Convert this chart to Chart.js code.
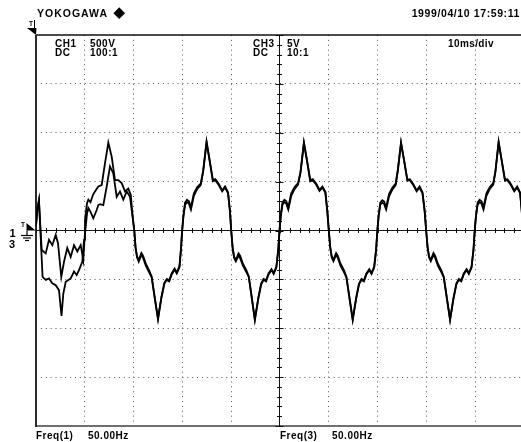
<!DOCTYPE html>
<html>
<head>
<meta charset="utf-8">
<script src="https://cdn.jsdelivr.net/npm/chart.js@4.4.1/dist/chart.umd.min.js"></script>
<style>
  html, body { margin: 0; padding: 0; background: #fff; overflow: hidden; width: 521px; height: 442px; }
  #wrap { width: 526px; height: 442px; }
</style>
</head>
<body>
<div id="wrap"><canvas id="scope" width="526" height="442"></canvas></div>
<script>
// Scope settings
const MS_PER_DIV = 10;
const CH1_VOLTS_PER_DIV = 500;   // CH1 500V, probe 100:1
const CH3_VOLTS_PER_DIV = 5;     // CH3 5V, probe 10:1

// CH1 trace: sample times (ms) and voltages (V)
const ch1Ms = [
  0, 0.3, 0.6, 1.35, 2.0, 2.66, 3.34, 4.04, 4.71, 5.23, 5.6, 6.09, 7.11, 7.79, 8.34, 8.81, 9.49, 9.84, 10.04, 10.45,
  10.72, 11.17, 11.68, 12.09, 12.77, 13.46, 14.14, 14.82, 15.51, 16.19, 16.86, 17.56, 18.24, 18.91, 19.41, 19.82, 20.14,
  20.4, 20.7, 21.05, 21.6, 21.95, 22.5, 23.2, 23.7, 24.35, 25.0, 25.7, 26.3, 26.8, 27.3, 27.8, 28.4, 28.85, 29.4, 29.7, 29.95,
  30.2, 30.55, 30.95, 31.35, 31.75, 32.35, 33.05, 33.75, 34.25, 34.95, 35.55, 36.25, 36.75, 37.45, 38.15, 38.75, 39.35, 39.75, 40.0,
  40.3, 40.6, 40.95, 41.5, 41.85, 42.4, 43.1, 43.6, 44.25, 44.85, 45.55, 46.15, 46.65, 47.15, 47.65, 48.25, 48.7, 49.25, 49.65, 49.9,
  50.15, 50.5, 50.9, 51.3, 51.7, 52.3, 53.0, 53.7, 54.2, 54.9, 55.5, 56.2, 56.7, 57.4, 58.1, 58.7, 59.3, 59.7, 60.0,
  60.3, 60.6, 60.95, 61.5, 61.85, 62.4, 63.1, 63.6, 64.25, 64.9, 65.6, 66.2, 66.7, 67.2, 67.7, 68.3, 68.75, 69.3, 69.7, 69.95,
  70.2, 70.55, 70.95, 71.35, 71.75, 72.35, 73.05, 73.7, 74.15, 74.8, 75.4, 76.1, 76.6, 77.3, 78.0, 78.6, 79.2, 79.65, 79.95,
  80.25, 80.55, 80.9, 81.45, 81.8, 82.35, 83.05, 83.55, 84.2, 84.85, 85.55, 86.15, 86.65, 87.15, 87.65, 88.25, 88.7, 89.25, 89.65, 89.9,
  90.15, 90.5, 90.9, 91.3, 91.7, 92.3, 93.0, 93.7, 94.15, 94.8, 95.4, 96.1, 96.6, 97.3, 98.0, 98.6, 99.2, 99.5, 99.8
];
const ch1Volts = [
  50, 225, 310, -475, -505, -490, -540, -560, -610, -875, -645, -525, -490, -420, -455, -405, -320, -95, 110, 280,
  315, 290, 365, 400, 450, 465, 690, 900, 755, 515, 515, 485, 400, 430, 365, 140, 0,
  -175, -275, -320, -250, -280, -360, -430, -480, -700, -910, -690, -545, -505, -520, -450, -400, -440, -375, -200, 0,
  150, 285, 315, 300, 235, 380, 445, 480, 610, 910, 730, 515, 525, 475, 410, 450, 390, 200, 0,
  -180, -280, -315, -255, -285, -360, -425, -475, -705, -915, -700, -550, -505, -520, -450, -405, -445, -380, -200, 0,
  150, 285, 315, 300, 235, 380, 445, 485, 600, 900, 730, 515, 525, 480, 415, 450, 395, 200, 0,
  -175, -275, -315, -250, -280, -360, -425, -480, -700, -915, -700, -550, -505, -520, -450, -405, -445, -380, -200, 0,
  150, 285, 310, 295, 235, 375, 440, 480, 625, 900, 730, 520, 525, 475, 410, 450, 390, 200, 0,
  -175, -275, -315, -250, -280, -360, -425, -480, -700, -915, -700, -550, -505, -520, -450, -405, -445, -380, -200, 0,
  150, 285, 315, 300, 235, 380, 445, 485, 610, 910, 730, 520, 525, 475, 410, 450, 390, 225, 25
];

// CH3 trace: sample times (ms) and voltages (V)
const ch3Ms = [
  0, 0.3, 0.6, 1.17, 1.99, 2.66, 3.34, 4.04, 4.51, 5.18, 5.74, 6.41, 7.11, 7.79, 8.46, 9.16, 9.69, 9.98, 10.45, 10.72,
  11.17, 11.74, 12.44, 12.77, 13.11, 13.79, 14.49, 15.16, 15.84, 16.54, 17.21, 17.89, 18.59, 19.26, 19.61, 20.14,
  20.4, 20.7, 21.05, 21.6, 21.95, 22.5, 23.2, 23.7, 24.35, 25.0, 25.7, 26.3, 26.8, 27.3, 27.8, 28.4, 28.85, 29.4, 29.7, 29.95,
  30.2, 30.55, 30.95, 31.35, 31.75, 32.35, 33.05, 33.75, 34.25, 34.95, 35.55, 36.25, 36.75, 37.45, 38.15, 38.75, 39.35, 39.75, 40.0,
  40.3, 40.6, 40.95, 41.5, 41.85, 42.4, 43.1, 43.6, 44.25, 44.85, 45.55, 46.15, 46.65, 47.15, 47.65, 48.25, 48.7, 49.25, 49.65, 49.9,
  50.15, 50.5, 50.9, 51.3, 51.7, 52.3, 53.0, 53.7, 54.2, 54.9, 55.5, 56.2, 56.7, 57.4, 58.1, 58.7, 59.3, 59.7, 60.0,
  60.3, 60.6, 60.95, 61.5, 61.85, 62.4, 63.1, 63.6, 64.25, 64.9, 65.6, 66.2, 66.7, 67.2, 67.7, 68.3, 68.75, 69.3, 69.7, 69.95,
  70.2, 70.55, 70.95, 71.35, 71.75, 72.35, 73.05, 73.7, 74.15, 74.8, 75.4, 76.1, 76.6, 77.3, 78.0, 78.6, 79.2, 79.65, 79.95,
  80.25, 80.55, 80.9, 81.45, 81.8, 82.35, 83.05, 83.55, 84.2, 84.85, 85.55, 86.15, 86.65, 87.15, 87.65, 88.25, 88.7, 89.25, 89.65, 89.9,
  90.15, 90.5, 90.9, 91.3, 91.7, 92.3, 93.0, 93.7, 94.15, 94.8, 95.4, 96.1, 96.6, 97.3, 98.0, 98.6, 99.2, 99.5, 99.8
];
const ch3Volts = [
  0.5, 2.25, 3.1, -2.0, -2.35, -0.95, -1.5, -0.45, -1.3, -4.75, -3.2, -1.8, -2.7, -1.5, -2.15, -1.5, -3.0, -0.65, 1.7, 2.3,
  1.9, 1.25, 2.1, 2.6, 2.7, 2.6, 4.5, 6.55, 5.85, 3.45, 4.0, 3.15, 4.0, 3.45, 2.1, 0,
  -1.75, -2.65, -3.0, -2.3, -2.6, -3.4, -4.1, -4.7, -6.9, -9.0, -6.8, -5.35, -4.95, -5.1, -4.4, -3.9, -4.3, -3.65, -1.9, 0,
  1.4, 2.65, 2.9, 2.75, 2.15, 3.55, 4.25, 4.65, 6.0, 9.0, 7.2, 5.05, 5.15, 4.65, 4.0, 4.4, 3.8, 1.9, 0,
  -1.8, -2.7, -3.0, -2.35, -2.6, -3.4, -4.05, -4.7, -6.95, -9.1, -6.9, -5.4, -4.95, -5.1, -4.4, -3.95, -4.35, -3.7, -1.9, 0,
  1.4, 2.65, 2.9, 2.75, 2.15, 3.55, 4.25, 4.7, 5.9, 8.95, 7.2, 5.05, 5.15, 4.7, 4.05, 4.4, 3.85, 1.9, 0,
  -1.75, -2.65, -3.0, -2.3, -2.6, -3.4, -4.05, -4.7, -6.9, -9.1, -6.9, -5.4, -4.95, -5.1, -4.4, -3.95, -4.35, -3.7, -1.9, 0,
  1.4, 2.65, 2.85, 2.7, 2.15, 3.5, 4.2, 4.65, 6.1, 8.95, 7.2, 5.1, 5.15, 4.65, 4.0, 4.4, 3.8, 1.9, 0,
  -1.75, -2.65, -3.0, -2.3, -2.6, -3.4, -4.05, -4.7, -6.9, -9.1, -6.9, -5.4, -4.95, -5.1, -4.4, -3.95, -4.35, -3.7, -1.9, 0,
  1.4, 2.65, 2.9, 2.75, 2.15, 3.55, 4.25, 4.7, 6.0, 9.0, 7.2, 5.1, 5.15, 4.65, 4.0, 4.4, 3.8, 2.15, 0.2
];

// Screen annotations
const headerBrand = 'YOKOGAWA';
const headerStamp = '1999/04/10 17:59:11';
const ch1Setup = ['CH1', 'DC', '500V', '100:1'];
const ch3Setup = ['CH3', 'DC', '5V', '10:1'];
const timebaseText = '10ms/div';
const freqReadouts = [['Freq(1)', '50.00Hz'], ['Freq(3)', '50.00Hz']];

const H_DIVS = 10, V_DIVS = 8;
const FONT = '"Liberation Sans", Arial, sans-serif';
const DOT_COLOR = '#555';

// volts -> screen divisions
const toPoints = (ms, volts, perDiv) => ms.map((t, i) => ({ x: t, y: volts[i] / perDiv }));

const isEdgeOrCenterY = v => v === 0 || Math.abs(v) === V_DIVS / 2;
const isEdgeOrCenterX = v => v === 0 || v === H_DIVS * MS_PER_DIV / 2 || v === H_DIVS * MS_PER_DIV;

function seg(ctx, x1, y1, x2, y2) {
  ctx.beginPath(); ctx.moveTo(x1, y1); ctx.lineTo(x2, y2); ctx.stroke();
}
function label(ctx, str, x, y, size, align, spacing) {
  ctx.font = 'bold ' + size + 'px ' + FONT;
  ctx.textAlign = align || 'left';
  ctx.textBaseline = 'alphabetic';
  if ('letterSpacing' in ctx) ctx.letterSpacing = (spacing || 0) + 'px';
  ctx.fillText(str, x, y);
  if ('letterSpacing' in ctx) ctx.letterSpacing = '0px';
}

// Frame, centre graticule with minor ticks, and on-screen readouts
const scopeFrame = {
  id: 'scopeFrame',
  beforeDatasetsDraw(chart) {
    const { ctx, scales: { x, y } } = chart;
    const left = x.getPixelForValue(0);
    const right = x.getPixelForValue(H_DIVS * MS_PER_DIV);
    const top = y.getPixelForValue(V_DIVS / 2);
    const bottom = y.getPixelForValue(-V_DIVS / 2);
    const xc = Math.floor(x.getPixelForValue(H_DIVS * MS_PER_DIV / 2)) - 0.5;
    const yc = y.getPixelForValue(0);
    ctx.save();
    ctx.lineCap = 'butt';
    // top edge
    ctx.strokeStyle = '#111'; ctx.lineWidth = 1.5;
    seg(ctx, left, top, right, top);
    // bottom edge
    ctx.strokeStyle = '#6f6f6f'; ctx.lineWidth = 2;
    seg(ctx, left, bottom, right, bottom);
    // left edge
    ctx.strokeStyle = '#2a2a2a'; ctx.lineWidth = 2;
    seg(ctx, left, top, left, bottom + 1);
    // centre cross
    ctx.strokeStyle = '#111'; ctx.lineWidth = 1;
    seg(ctx, left, yc, right, yc);
    seg(ctx, xc, top, xc, bottom);
    // minor ticks on the centre lines (1/5 div)
    for (let i = 0; i <= H_DIVS * 5; i++) {
      const px = Math.round(x.getPixelForValue(i * MS_PER_DIV / 5)) + 0.5;
      seg(ctx, px, yc - 2.5, px, yc + 2.5);
    }
    for (let i = -V_DIVS * 5 / 2; i <= V_DIVS * 5 / 2; i++) {
      const py = Math.round(y.getPixelForValue(i / 5)) + 0.5;
      const len = i % 5 === 0 ? 4 : 2.5;
      seg(ctx, xc - len, py, xc + len, py);
    }
    ctx.restore();
  },
  afterDraw(chart) {
    const { ctx, scales: { x, y } } = chart;
    const left = x.getPixelForValue(0);
    const xc = x.getPixelForValue(H_DIVS * MS_PER_DIV / 2);
    const yc = y.getPixelForValue(0);
    ctx.save();
    ctx.fillStyle = '#000'; ctx.strokeStyle = '#000';

    // header
    label(ctx, headerBrand, left + 1, 16.5, 10.5, 'left', 1);
    ctx.beginPath();
    ctx.moveTo(119.2, 7.3); ctx.lineTo(125, 13.2); ctx.lineTo(119.2, 19); ctx.lineTo(113.4, 13.2);
    ctx.closePath(); ctx.fill();
    label(ctx, headerStamp, 520, 16.5, 10.5, 'right', 0.6);

    // trigger position marker (top left)
    label(ctx, 'T', 29, 25.5, 6.5, 'left', 0);
    ctx.lineWidth = 1;
    seg(ctx, 34.5, 20, 34.5, 28);
    ctx.beginPath();
    ctx.moveTo(27, 28); ctx.lineTo(36.5, 28); ctx.lineTo(36, 35); ctx.closePath(); ctx.fill();

    // channel setup readouts
    label(ctx, ch1Setup[0], left + 19, 46.7, 10, 'left', 0.5);
    label(ctx, ch1Setup[1], left + 19, 56, 10, 'left', 0.5);
    label(ctx, ch1Setup[2], left + 54, 46.7, 10, 'left', 0.5);
    label(ctx, ch1Setup[3], left + 54, 56, 10, 'left', 0.5);
    label(ctx, ch3Setup[0], xc - 27, 46.7, 10, 'left', 0.5);
    label(ctx, ch3Setup[1], xc - 27, 56, 10, 'left', 0.5);
    label(ctx, ch3Setup[2], xc + 7, 46.7, 10, 'left', 0.5);
    label(ctx, ch3Setup[3], xc + 7, 56, 10, 'left', 0.5);
    label(ctx, timebaseText, 448, 47, 10, 'left', 0.4);

    // ground level / trigger level markers at the left
    label(ctx, '1', 9.5, 236.5, 11, 'left', 0);
    label(ctx, '3', 9, 247.5, 11, 'left', 0);
    label(ctx, 'T', 21, 227, 6.5, 'left', 0);
    ctx.beginPath();
    ctx.moveTo(26.5, 223); ctx.lineTo(35.5, yc); ctx.lineTo(26.5, yc); ctx.closePath(); ctx.fill();
    ctx.lineWidth = 1.2;
    seg(ctx, 27, yc, 27, yc + 5);
    seg(ctx, 21, yc + 5, 33, yc + 5);
    seg(ctx, 23, yc + 7.5, 31, yc + 7.5);
    seg(ctx, 25, yc + 10, 29, yc + 10);

    // frequency readouts
    label(ctx, freqReadouts[0][0], left, 438.5, 10, 'left', 0.5);
    label(ctx, freqReadouts[0][1], left + 52, 438.5, 10, 'left', 0.5);
    label(ctx, freqReadouts[1][0], xc, 438.5, 10, 'left', 0.5);
    label(ctx, freqReadouts[1][1], xc + 52, 438.5, 10, 'left', 0.5);
    ctx.restore();
  }
};

const traceStyle = {
  borderColor: '#000',
  borderWidth: 1.8,
  pointRadius: 0,
  tension: 0,
  fill: false
};

new Chart(document.getElementById('scope'), {
  type: 'line',
  data: {
    datasets: [
      Object.assign({ label: 'CH1', data: toPoints(ch1Ms, ch1Volts, CH1_VOLTS_PER_DIV) }, traceStyle),
      Object.assign({ label: 'CH3', data: toPoints(ch3Ms, ch3Volts, CH3_VOLTS_PER_DIV) }, traceStyle)
    ]
  },
  options: {
    responsive: false,
    animation: false,
    events: [],
    layout: { padding: { left: 36, right: 2, top: 35, bottom: 16 } },
    plugins: { legend: { display: false }, tooltip: { enabled: false } },
    scales: {
      x: {
        type: 'linear',
        min: 0,
        max: H_DIVS * MS_PER_DIV,
        ticks: { display: false, stepSize: MS_PER_DIV },
        grid: {
          drawTicks: false,
          lineWidth: 1,
          color: c => (c.tick && isEdgeOrCenterX(c.tick.value)) ? 'rgba(0,0,0,0)' : DOT_COLOR
        },
        border: { display: false, dash: [1, 3.88] }
      },
      y: {
        type: 'linear',
        min: -V_DIVS / 2,
        max: V_DIVS / 2,
        ticks: { display: false, stepSize: 1 },
        grid: {
          drawTicks: false,
          lineWidth: 1,
          color: c => (c.tick && isEdgeOrCenterY(c.tick.value)) ? 'rgba(0,0,0,0)' : DOT_COLOR
        },
        border: { display: false, dash: [1, 3.88] }
      }
    }
  },
  plugins: [scopeFrame]
});
</script>
</body>
</html>
